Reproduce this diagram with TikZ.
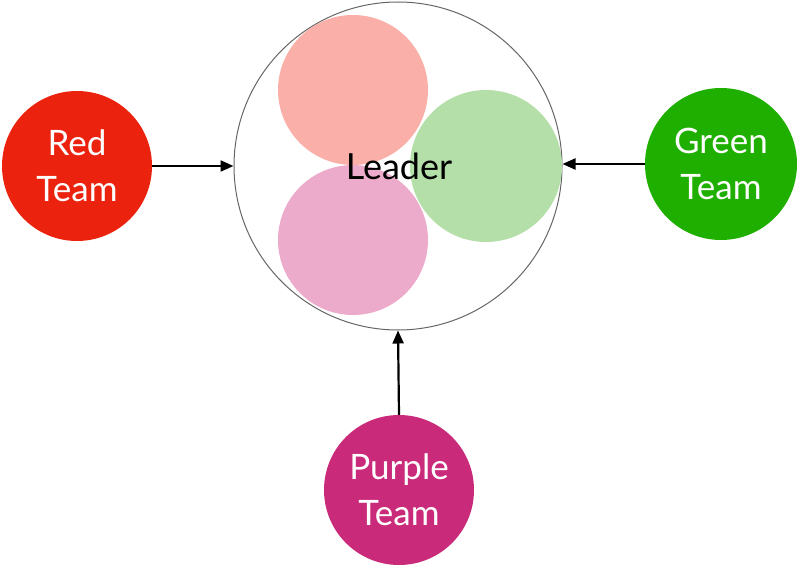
\documentclass[tikz,border=0pt]{standalone}
\usepackage{fontspec}
\setmainfont{Lato}
\usetikzlibrary{arrows.meta}
\definecolor{teamred}{RGB}{235,35,14}
\definecolor{teamgreen}{RGB}{31,175,0}
\definecolor{teampurple}{RGB}{202,42,122}
\definecolor{salmon}{RGB}{250,175,168}
\definecolor{lightgreen}{RGB}{180,223,169}
\definecolor{lightpink}{RGB}{237,171,203}
\begin{document}
\begin{tikzpicture}[x=1pt,y=-1pt,
  team/.style={circle,minimum size=150pt,inner sep=0pt,text=white,align=center,
    font=\fontsize{35}{46}\selectfont},
  blob/.style={circle,minimum size=150pt,inner sep=0pt},
  conn/.style={line width=2.2pt,-{Triangle[length=13pt,width=11pt]}}]
\useasboundingbox (0,0) rectangle (800,567);
\node[circle,draw=black!60,line width=1pt,minimum size=328pt,inner sep=0pt] (leader) at (398,166) {};
\node[blob,fill=salmon] (b1) at (353,90) {};
\node[blob,fill=lightpink] (b3) at (353,240) {};
\node[blob,fill=lightgreen,minimum size=152pt] (b2) at (486,166) {};
\node[font=\fontsize{36}{40}\selectfont] (lt) at (399,166) {Leader};
\node[team,fill=teamred] (red) at (77,166) {Red\\Team};
\node[team,fill=teamgreen,minimum size=152pt] (green) at (721,164) {Green\\Team};
\node[team,fill=teampurple] (purple) at (399,490) {Purple\\Team};
\draw[conn] (red.east) -- (leader.west);
\draw[conn] (green.west) -- (leader.east|-green.west);
\draw[conn] (purple.north) -- (leader.south);
\end{tikzpicture}
\end{document}
